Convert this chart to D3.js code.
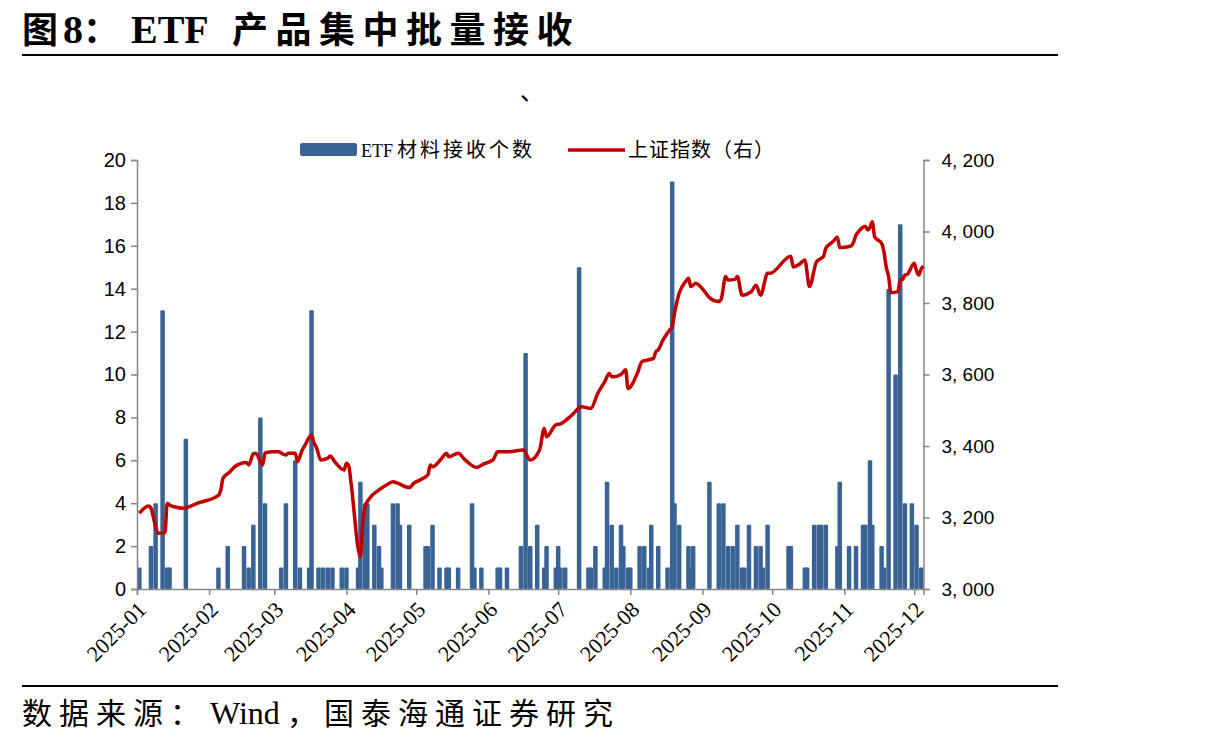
<!DOCTYPE html>
<html>
<head>
<meta charset="utf-8">
<script src="https://cdn.jsdelivr.net/npm/d3@7"></script>
<style>
    body { margin: 0; background: #fff; }
    svg { display: block; }
</style>
</head>
<body>
<div id="chart"></div>
<script>
// ETF bars: date -> count
const barDates = ["2025-01-02","2025-01-07","2025-01-09","2025-01-12","2025-01-14","2025-01-15","2025-01-22",
    "2025-02-05","2025-02-09","2025-02-16","2025-02-18","2025-02-20","2025-02-23","2025-02-25",
    "2025-03-04","2025-03-06","2025-03-10","2025-03-12","2025-03-16","2025-03-17","2025-03-20","2025-03-22","2025-03-24","2025-03-26","2025-03-30",
    "2025-04-01","2025-04-06","2025-04-07","2025-04-09","2025-04-10","2025-04-13","2025-04-15","2025-04-16","2025-04-21","2025-04-23","2025-04-24","2025-04-28",
    "2025-05-05","2025-05-06","2025-05-08","2025-05-11","2025-05-14","2025-05-15","2025-05-19","2025-05-25","2025-05-26","2025-05-29",
    "2025-06-05","2025-06-06","2025-06-09","2025-06-15","2025-06-17","2025-06-19","2025-06-22","2025-06-25","2025-06-26","2025-06-30",
    "2025-07-01","2025-07-02","2025-07-04","2025-07-10","2025-07-14","2025-07-15","2025-07-17","2025-07-21","2025-07-22","2025-07-24","2025-07-26","2025-07-28","2025-07-29","2025-07-31",
    "2025-08-01","2025-08-05","2025-08-07","2025-08-09","2025-08-10","2025-08-13","2025-08-17","2025-08-19","2025-08-20","2025-08-22","2025-08-26","2025-08-27","2025-08-28",
    "2025-09-04","2025-09-08","2025-09-10","2025-09-12","2025-09-14","2025-09-16","2025-09-18","2025-09-19","2025-09-21","2025-09-24","2025-09-26","2025-09-27","2025-09-29",
    "2025-10-08","2025-10-09","2025-10-15","2025-10-16","2025-10-19","2025-10-21","2025-10-22","2025-10-24","2025-10-29","2025-10-30",
    "2025-11-03","2025-11-06","2025-11-09","2025-11-10","2025-11-12","2025-11-13","2025-11-17","2025-11-18","2025-11-20","2025-11-23","2025-11-25","2025-11-27","2025-11-30",
    "2025-12-02","2025-12-04"];
const barValues = [1,2,4,13,1,1,7,
    1,2,2,1,3,8,4,
    1,4,6,1,1,13,1,1,1,1,1,
    1,1,5,4,4,3,2,1,4,4,3,3,
    2,2,3,1,1,1,1,4,1,1,
    1,1,1,2,11,2,3,1,2,1,
    2,1,1,15,1,1,2,1,5,3,1,3,2,1,
    1,2,2,1,3,2,1,19,4,3,2,1,2,
    5,4,4,2,2,3,1,1,3,2,2,1,3,
    2,2,1,1,3,3,3,3,2,5,
    2,2,3,3,6,3,2,1,14,10,17,4,4,
    3,1];

// 上证指数 daily close
const sseDates = ["2025-01-02","2025-01-06","2025-01-07","2025-01-09","2025-01-10","2025-01-13","2025-01-14","2025-01-15","2025-01-17","2025-01-21","2025-01-24","2025-01-27",
    "2025-02-05","2025-02-06","2025-02-07","2025-02-10","2025-02-12","2025-02-17","2025-02-18","2025-02-20","2025-02-21","2025-02-24","2025-02-25","2025-02-26","2025-02-28",
    "2025-03-03","2025-03-04","2025-03-06","2025-03-07","2025-03-10","2025-03-11","2025-03-13","2025-03-14","2025-03-17","2025-03-18","2025-03-19","2025-03-21","2025-03-24","2025-03-25","2025-03-27","2025-03-31",
    "2025-04-01","2025-04-02","2025-04-03","2025-04-07","2025-04-08","2025-04-09","2025-04-11","2025-04-15","2025-04-18","2025-04-21","2025-04-23","2025-04-28","2025-04-30",
    "2025-05-06","2025-05-07","2025-05-08","2025-05-12","2025-05-14","2025-05-15","2025-05-19","2025-05-22","2025-05-27","2025-05-30",
    "2025-06-03","2025-06-05","2025-06-10","2025-06-16","2025-06-19","2025-06-23","2025-06-25","2025-06-26","2025-06-30",
    "2025-07-02","2025-07-07","2025-07-11","2025-07-15","2025-07-18","2025-07-21","2025-07-23","2025-07-24","2025-07-25","2025-07-28","2025-07-30","2025-07-31",
    "2025-08-04","2025-08-06","2025-08-08","2025-08-11","2025-08-12","2025-08-13","2025-08-15","2025-08-18","2025-08-19","2025-08-20","2025-08-22","2025-08-25","2025-08-26","2025-08-27","2025-08-28","2025-08-29",
    "2025-09-02","2025-09-04","2025-09-08","2025-09-09","2025-09-11","2025-09-12","2025-09-15","2025-09-16","2025-09-18","2025-09-22","2025-09-24","2025-09-26","2025-09-29","2025-09-30",
    "2025-10-09","2025-10-10","2025-10-13","2025-10-15","2025-10-17","2025-10-20","2025-10-22","2025-10-23","2025-10-24","2025-10-27","2025-10-29","2025-10-30","2025-10-31",
    "2025-11-03","2025-11-04","2025-11-05","2025-11-06","2025-11-07","2025-11-10","2025-11-11","2025-11-12","2025-11-13","2025-11-14","2025-11-17","2025-11-18","2025-11-19","2025-11-20","2025-11-21","2025-11-24","2025-11-25","2025-11-26","2025-11-27","2025-11-28",
    "2025-12-01","2025-12-02","2025-12-03","2025-12-04","2025-12-05"];
const sseValues = [3212,3232,3226,3174,3156,3157,3240,3235,3230,3226,3232,3240,
    3262,3277,3310,3328,3342,3354,3347,3378,3380,3347,3380,3382,3384,
    3384,3380,3375,3380,3380,3356,3389,3400,3431,3410,3398,3361,3366,3372,3356,3333,
    3352,3345,3296,3090,3184,3230,3254,3277,3290,3300,3296,3284,3296,
    3319,3347,3342,3366,3380,3370,3380,3361,3340,3350,
    3361,3384,3384,3389,3361,3389,3449,3426,3459,
    3462,3487,3510,3505,3547,3580,3603,3594,3594,3600,3613,3561,
    3603,3636,3640,3645,3664,3669,3696,3725,3734,3771,3827,3862,3869,3846,3850,3855,
    3832,3815,3804,3810,3874,3864,3866,3874,3822,3832,3850,3822,3883,3883,
    3931,3901,3910,3920,3846,3915,3925,3930,3953,3971,3984,3955,3955,
    3958,3960,3971,3990,3999,4015,4004,4012,4027,3985,3967,3943,3900,3874,3829,3832,3864,3866,3878,3880,
    3911,3890,3878,3895,3903];

const leftTicks = [0,2,4,6,8,10,12,14,16,18,20];
const rightTicks = [3000,3200,3400,3600,3800,4000,4200];
const dateRange = ["2025-01-01","2025-12-05"];

const parseDate = d3.utcParse("%Y-%m-%d");
let bars = barDates.map((d, i) => ({date: parseDate(d), value: barValues[i]}));
let sse = sseDates.map((d, i) => ({date: parseDate(d), value: sseValues[i]}));

let width = 1215, height = 745;
let plot = {left: 137, right: 923.5, top: 160, bottom: 589};
const cjk = "'Noto Sans CJK SC'";
const serif = "'Liberation Serif', 'Noto Sans CJK SC'";

let svg = d3.select("#chart").append("svg")
    .attr("width", width)
    .attr("height", height);

let x = d3.scaleUtc()
    .domain(dateRange.map(parseDate))
    .range([plot.left, plot.right]);

let yLeft = d3.scaleLinear()
    .domain([0, 20])
    .range([plot.bottom, plot.top]);

let yRight = d3.scaleLinear()
    .domain([3000, 4200])
    .range([plot.bottom, plot.top]);

// title, pieces placed one by one so latin and CJK keep their own spacing
let title = svg.append("text")
    .attr("y", 43)
    .style("font-weight", "bold")
    .style("fill", "#000");
title.append("tspan").attr("x", 22).style("font-family", cjk).style("font-size", "36px").text("图");
title.append("tspan").attr("x", 63).style("font-family", serif).style("font-size", "40px").text("8");
title.append("tspan").attr("x", 83).style("font-family", cjk).style("font-size", "36px").text("：");
title.append("tspan").attr("x", 131).style("font-family", serif).style("font-size", "40px").text("ETF");
title.append("tspan").attr("x", 232).style("font-family", cjk).style("font-size", "36px")
    .style("letter-spacing", "7.5px").text("产品集中批量接收");

svg.append("line")
    .attr("x1", 22).attr("x2", 1058)
    .attr("y1", 55).attr("y2", 55)
    .attr("stroke", "#000")
    .attr("stroke-width", 2);

svg.append("text")
    .attr("x", 520)
    .attr("y", 100)
    .style("font-family", cjk)
    .style("font-size", "24px")
    .text("、");

// bars
svg.selectAll("rect.bar")
    .data(bars)
    .enter()
    .append("rect")
    .attr("class", "bar")
    .attr("x", d => x(d.date) - 2.25)
    .attr("width", 4.5)
    .attr("y", d => yLeft(d.value))
    .attr("height", d => yLeft(0) - yLeft(d.value))
    .attr("rx", 1)
    .attr("fill", "#3A6395");

// axes
let xAxis = d3.axisBottom(x)
    .ticks(d3.utcMonth.every(1))
    .tickSize(6)
    .tickFormat(d3.utcFormat("%Y-%m"));

let gx = svg.append("g")
    .attr("class", "axis x-axis")
    .attr("transform", "translate(0," + plot.bottom + ")")
    .call(xAxis);
gx.selectAll("text")
    .attr("text-anchor", "end")
    .attr("dy", null)
    .attr("y", 0)
    .attr("transform", "translate(10,22) rotate(-45)")
    .style("font-family", "'Liberation Serif'")
    .style("font-size", "22px")
    .style("fill", "#000");

let gl = svg.append("g")
    .attr("class", "axis y-axis")
    .attr("transform", "translate(" + plot.left + ",0)")
    .call(d3.axisLeft(yLeft).tickValues(leftTicks).tickSize(6).tickPadding(5));
gl.selectAll("text")
    .style("font-family", "'Liberation Sans'")
    .style("font-size", "20px")
    .style("fill", "#000");

let gr = svg.append("g")
    .attr("class", "axis y-axis-right")
    .attr("transform", "translate(" + plot.right + ",0)")
    .call(d3.axisRight(yRight).tickValues(rightTicks).tickSize(6).tickPadding(12)
        .tickFormat(d => d3.format(",")(d).replace(",", ", ")));
gr.selectAll("text")
    .style("font-family", "'Liberation Sans'")
    .style("font-size", "19px")
    .style("fill", "#000");

svg.selectAll(".axis path, .axis line")
    .attr("stroke", "#868686")
    .attr("stroke-width", 1.5);

// line
let line = d3.line()
    .x(d => x(d.date))
    .y(d => yRight(d.value))
    .curve(d3.curveMonotoneX);

svg.append("path")
    .datum(sse)
    .attr("d", line)
    .attr("fill", "none")
    .attr("stroke", "#C00000")
    .attr("stroke-width", 3.5)
    .attr("stroke-linejoin", "round");

// legend
svg.append("rect")
    .attr("x", 300).attr("y", 143)
    .attr("width", 57).attr("height", 13)
    .attr("rx", 2)
    .attr("fill", "#3A6395");
let lg1 = svg.append("text").attr("y", 157);
lg1.append("tspan").attr("x", 361).style("font-family", serif).style("font-size", "18px").text("ETF");
lg1.append("tspan").attr("x", 397).style("font-family", cjk).style("font-size", "20px")
    .style("letter-spacing", "3px").text("材料接收个数");
svg.append("line")
    .attr("x1", 568).attr("x2", 625)
    .attr("y1", 150).attr("y2", 150)
    .attr("stroke", "#C00000")
    .attr("stroke-width", 3.5);
svg.append("text")
    .attr("x", 628).attr("y", 157)
    .style("font-family", cjk)
    .style("font-size", "20px")
    .style("letter-spacing", "1px")
    .text("上证指数（右）");

// footer
svg.append("line")
    .attr("x1", 22).attr("x2", 1058)
    .attr("y1", 686).attr("y2", 686)
    .attr("stroke", "#000")
    .attr("stroke-width", 2);

let src = svg.append("text").attr("y", 724).style("fill", "#000");
src.append("tspan").attr("x", 22).style("font-family", cjk).style("font-size", "30px")
    .style("letter-spacing", "7px").text("数据来源：");
src.append("tspan").attr("x", 210).style("font-family", serif).style("font-size", "32px").text("Wind");
src.append("tspan").attr("x", 287).style("font-family", cjk).style("font-size", "30px")
    .style("letter-spacing", "7px").text("，国泰海通证券研究");
</script>
</body>
</html>
